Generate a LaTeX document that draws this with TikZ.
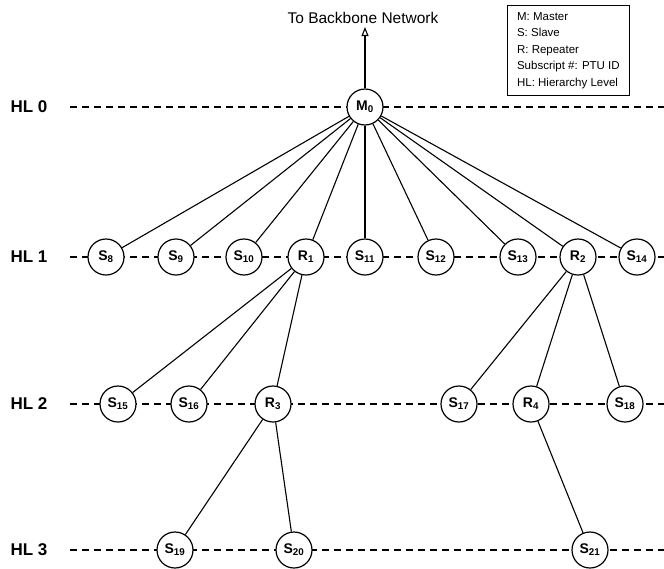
\documentclass[tikz,border=0pt]{standalone}
\usepackage{fontspec}
\setmainfont{Liberation Sans}
\usetikzlibrary{arrows,arrows.meta}

\begin{document}
\begin{tikzpicture}[x=1pt,y=-1pt]
\tikzset{ptu/.style={circle,draw,line width=1.2pt,fill=white,minimum size=36pt,inner sep=0pt,font=\fontsize{14}{16}\selectfont\bfseries}}
\tikzset{hl/.style={font=\fontsize{17}{20}\selectfont\bfseries}}
\tikzset{level line/.style={line width=1.2pt,dash pattern=on 7pt off 5pt}}
\tikzset{link/.style={line width=1.1pt}}
\tikzset{key/.style={draw,line width=0.8pt,align=left,anchor=north west,inner sep=7pt,minimum width=122pt,minimum height=86pt,font=\fontsize{11.5}{16.5}\selectfont}}

\useasboundingbox (0,0) rectangle (664,568);

% hierarchy levels
\foreach \l/\y in {0/107,1/257,2/404,3/550}{
  \node[hl] (hl\l) at (29,\y) {HL \l};
  \coordinate (ls\l) at (70,\y);
  \coordinate (le\l) at (664,\y);
  \draw[level line] (ls\l) -- (le\l);
}

\node[ptu] (M0) at (365,107) {M\textsubscript{0}};
\foreach \s/\k/\x in {S/8/106,S/9/176,S/10/244,R/1/306,S/11/365,S/12/436,S/13/518,R/2/578,S/14/637}
  \node[ptu] (\s\k) at (\x,257) {\s\textsubscript{\k}};
\foreach \s/\k/\x in {S/15/118,S/16/189,R/3/273,S/17/459,R/4/531,S/18/625}
  \node[ptu] (\s\k) at (\x,404) {\s\textsubscript{\k}};
\foreach \s/\k/\x in {S/19/175,S/20/294,S/21/590}
  \node[ptu] (\s\k) at (\x,550) {\s\textsubscript{\k}};

\foreach \c in {S8,S9,S10,R1,S11,S12,S13,R2,S14} \draw[link] (M0) -- (\c);
\foreach \c in {S15,S16,R3} \draw[link] (R1) -- (\c);
\foreach \c in {S17,R4,S18} \draw[link] (R2) -- (\c);
\foreach \c in {S19,S20} \draw[link] (R3) -- (\c);
\draw[link] (R4) -- (S21);

% uplink
\node[font=\fontsize{15.5}{18}\selectfont] (backbone) at (363,18) {To Backbone Network};
\coordinate (up) at (365,27);
\draw[link,-{Triangle[open,length=9pt,width=7pt]}] (M0) -- (up);

\node[key] (legend) at (507,5) {M: Master\\ S: Slave\\ R: Repeater\\ Subscript \#: PTU ID\\ HL: Hierarchy Level};

\end{tikzpicture}
\end{document}
